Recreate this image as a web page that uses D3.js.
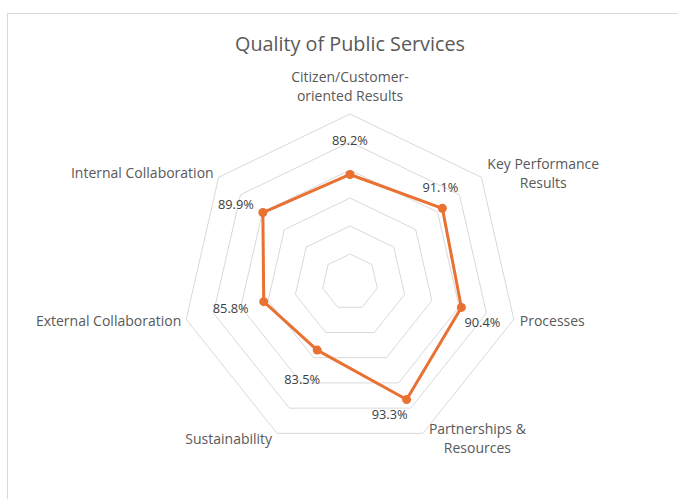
<!DOCTYPE html>
<html>
<head>
<meta charset="utf-8">
<script src="https://cdn.jsdelivr.net/npm/d3@7"></script>
<style>
  body { margin: 0; background: #fff; }
  svg { display: block; font-family: "Open Sans", Roboto, sans-serif; }
</style>
</head>
<body>
<svg id="chart" width="678" height="499"></svg>
<script>
// categories (line breaks where the label wraps), clockwise from the top
var categories = [
  "Citizen/Customer-\noriented Results",
  "Key Performance\nResults",
  "Processes",
  "Partnerships &\nResources",
  "Sustainability",
  "External Collaboration",
  "Internal Collaboration"
];
var values = [0.892, 0.911, 0.904, 0.933, 0.835, 0.858, 0.899];
var ringTicks = [0.75, 0.80, 0.85, 0.90, 0.95, 1.00];
var axisMin = 0.70, axisMax = 1.00;

// how far each value label sits from its point (label placement only)
var labelNudge = [[0, -34], [-2, -21], [21, 15], [-17, 15], [-15, 29], [-33, 7], [-27, -8]];

var svg = d3.select("#chart");
var cx = 350, cy = 282, R = 168;
var orange = "#E97132";

// chart area border
svg.append("rect")
  .attr("x", 7.5).attr("y", 13.5)
  .attr("width", 700).attr("height", 600)
  .attr("fill", "none").attr("stroke", "#d9d9d9");

svg.append("text")
  .attr("x", 350).attr("y", 51)
  .attr("text-anchor", "middle")
  .attr("font-size", 19.8)
  .attr("fill", "#595959")
  .text("Quality of Public Services");

var r = d3.scaleLinear().domain([axisMin, axisMax]).range([0, R]);
var angle = d3.scaleLinear().domain([0, categories.length]).range([0, 2 * Math.PI]);

var radial = d3.lineRadial()
  .angle(function(d, i){ return angle(i); })
  .curve(d3.curveLinearClosed);

var g = svg.append("g").attr("transform", "translate(" + cx + "," + cy + ")");

// grid rings
g.selectAll("path.ring")
  .data(ringTicks)
  .enter().append("path")
  .attr("class", "ring")
  .attr("d", function(t){ return radial.radius(r(t))(categories); })
  .attr("fill", "none")
  .attr("stroke", "#d9d9d9")
  .attr("stroke-width", 1);

// series line
g.append("path")
  .attr("d", radial.radius(function(d){ return r(d); })(values))
  .attr("fill", "none")
  .attr("stroke", orange)
  .attr("stroke-width", 3)
  .attr("stroke-linejoin", "round");

function px(i, rad){ return rad * Math.sin(angle(i)); }
function py(i, rad){ return -rad * Math.cos(angle(i)); }

g.selectAll("circle")
  .data(values)
  .enter().append("circle")
  .attr("cx", function(d, i){ return px(i, r(d)); })
  .attr("cy", function(d, i){ return py(i, r(d)); })
  .attr("r", 4.5)
  .attr("fill", orange);

// value labels
g.selectAll("text.val")
  .data(values)
  .enter().append("text")
  .attr("class", "val")
  .attr("x", function(d, i){ return px(i, r(d)) + labelNudge[i][0]; })
  .attr("y", function(d, i){ return py(i, r(d)) + labelNudge[i][1]; })
  .attr("dy", "0.35em")
  .attr("text-anchor", "middle")
  .attr("font-size", 12.8)
  .attr("fill", "#404040")
  .text(function(d){ return d3.format(".1%")(d); });

// category labels placed just outside each outer vertex
var lh = 19.5;
categories.forEach(function(name, i){
  var lines = name.split("\n");
  var s = Math.sin(angle(i)), c = Math.cos(angle(i));
  var vx = px(i, R), vy = py(i, R);
  var t = g.append("text")
    .attr("font-size", 14)
    .attr("fill", "#595959")
    .attr("text-anchor", "middle");
  lines.forEach(function(l){ t.append("tspan").text(l); });
  var w = d3.max(t.selectAll("tspan").nodes(), function(n){ return n.getComputedTextLength(); });
  var h = lines.length * lh;
  var midX, midY;
  if (Math.abs(s) < 0.1) {
    midX = vx;
    midY = vy - c * (h / 2 + 8);
  } else {
    midX = s > 0 ? vx + 6 + w / 2 : vx - 5 - w / 2;
    midY = vy - 6 * c;
  }
  t.selectAll("tspan")
    .attr("x", midX)
    .attr("y", function(d, k){ return midY - h / 2 + lh * k + lh / 2; })
    .attr("dy", "0.35em");
});
</script>
</body>
</html>
